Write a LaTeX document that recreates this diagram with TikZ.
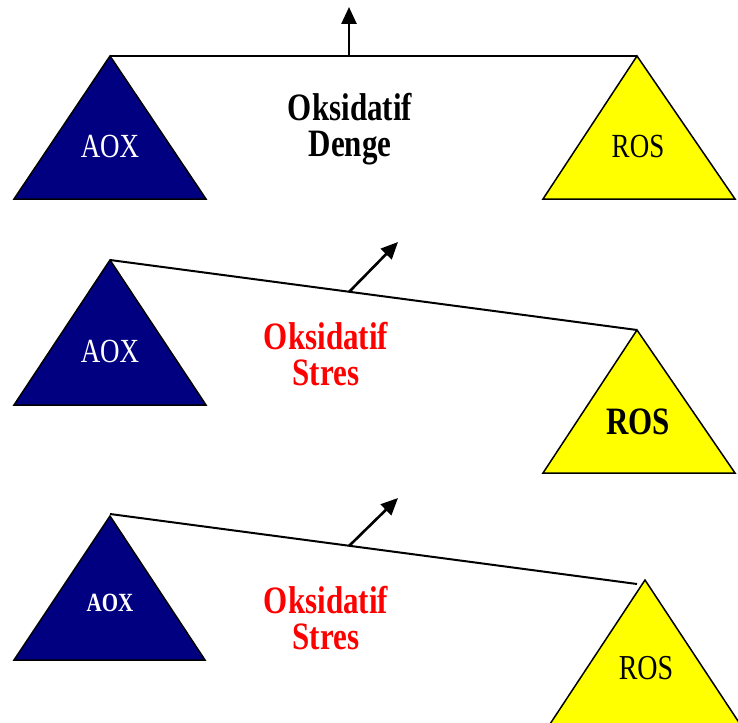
\documentclass[tikz,border=0pt]{standalone}
\usepackage{fontspec}
\setmainfont{Liberation Serif}
\usetikzlibrary{arrows.meta}
\definecolor{aoxblue}{RGB}{0,0,128}
\definecolor{rosyellow}{RGB}{255,255,0}
\definecolor{stressred}{RGB}{255,0,0}
\newcommand{\tall}[1]{\scalebox{1}[1.25]{#1}}
\tikzset{
  aoxtri/.style={draw=black, line width=1.5pt, fill=aoxblue, line join=miter},
  rostri/.style={draw=black, line width=1.5pt, fill=rosyellow, line join=miter},
  beam/.style={draw=black, line width=2pt},
  pointer/.style={draw=black, line width=2.6pt, arrows={-Triangle[length=17pt, width=15pt]}},
  midtext/.style={font=\fontsize{31}{34}\selectfont\bfseries, align=center, inner sep=0pt},
  trilabel/.style={inner sep=0pt}
}
\begin{document}
\begin{tikzpicture}[x=1pt,y=-1pt]
\useasboundingbox (0,0) rectangle (738,722);
\clip (0,0) rectangle (738,722);
\fill[white] (0,0) rectangle (738,722);

% ---------- top: balance ----------
\coordinate (aoxA) at (110,56);
\coordinate (rosA) at (637,56);
\coordinate (pivA) at (349,56);
\coordinate (tipA) at (349,7);
\path[aoxtri] (aoxA) -- (14,199) -- (206,199) -- cycle;
\path[rostri] (rosA) -- (543,199) -- (735,199) -- cycle;
\draw[beam] (aoxA) -- (rosA);
\draw[pointer] (pivA) -- (tipA);
\node[midtext] (txtA) at (350,129) {\tall{Oksidatif}\\[2pt]\tall{Denge}};
\node[trilabel, text=white, font=\fontsize{27}{30}\selectfont] (aoxlA) at (110,146) {\tall{AOX}};
\node[trilabel, text=black, font=\fontsize{27}{30}\selectfont] (roslA) at (638,146) {\tall{ROS}};

% ---------- middle: stress ----------
\coordinate (aoxB) at (110,260);
\coordinate (rosB) at (637,330);
\coordinate (pivB) at (349,292);
\coordinate (tipB) at (398,242);
\path[aoxtri] (aoxB) -- (14,405) -- (206,405) -- cycle;
\path[rostri] (rosB) -- (543,473) -- (735,473) -- cycle;
\draw[beam] (aoxB) -- (rosB);
\draw[pointer] (pivB) -- (tipB);
\node[midtext, text=stressred] (txtB) at (326,354) {\tall{Oksidatif}\\[2pt]\tall{Stres}};
\node[trilabel, text=white, font=\fontsize{27}{30}\selectfont] (aoxlB) at (110,351) {\tall{AOX}};
\node[trilabel, text=black, font=\fontsize{31}{34}\selectfont\bfseries] (roslB) at (638,422) {\tall{ROS}};

% ---------- bottom: stress ----------
\coordinate (aoxC) at (110,514);
\coordinate (rosC) at (637,584);
\coordinate (pivC) at (349,546);
\coordinate (tipC) at (398,498);
\path[aoxtri] (110,516) -- (14,660) -- (205,660) -- cycle;
\path[rostri] (645,580) -- (550,724) -- (740,724) -- cycle;
\draw[beam] (aoxC) -- (rosC);
\draw[pointer] (pivC) -- (tipC);
\node[midtext, text=stressred] (txtC) at (326,618) {\tall{Oksidatif}\\[2pt]\tall{Stres}};
\node[trilabel, text=white, font=\fontsize{21}{24}\selectfont\bfseries] (aoxlC) at (110,603) {\tall{AOX}};
\node[trilabel, text=black, font=\fontsize{28}{30}\selectfont] (roslC) at (646,668) {\tall{ROS}};
\end{tikzpicture}
\end{document}
